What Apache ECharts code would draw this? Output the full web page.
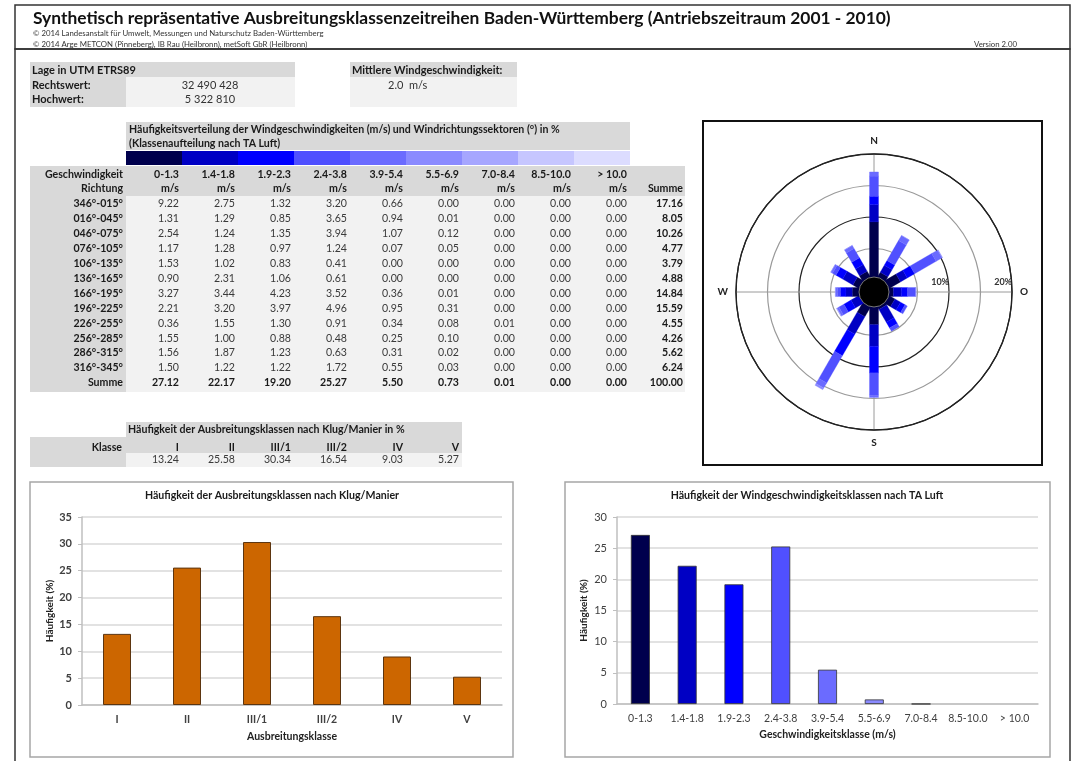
<!DOCTYPE html>
<html><head><meta charset="utf-8">
<script src="https://cdn.jsdelivr.net/npm/echarts@6/dist/echarts.min.js"></script>
<style>html,body{margin:0;padding:0;background:#fff}#c{width:1076px;height:761px}</style>
</head><body><div id="c"></div><script>
// ---------- data ----------
const titleText = 'Synthetisch repräsentative Ausbreitungsklassenzeitreihen Baden-Württemberg (Antriebszeitraum 2001 - 2010)';
const copyright1 = '© 2014 Landesanstalt für Umwelt, Messungen und Naturschutz Baden-Württemberg';
const copyright2 = '© 2014 Arge METCON (Pinneberg), IB Rau (Heilbronn), metSoft GbR (Heilbronn)';
const versionText = 'Version 2.00';
const rechtswert = '32 490 428';
const hochwert = '5 322 810';
const meanWind = '2.0';

const speedClasses = ['0-1.3','1.4-1.8','1.9-2.3','2.4-3.8','3.9-5.4','5.5-6.9','7.0-8.4','8.5-10.0','> 10.0'];
const directions = ['346°-015°','016°-045°','046°-075°','076°-105°','106°-135°','136°-165°','166°-195°','196°-225°','226°-255°','256°-285°','286°-315°','316°-345°'];
const speed0_13  = [9.22,1.31,2.54,1.17,1.53,0.90,3.27,2.21,0.36,1.55,1.56,1.50];
const speed14_18 = [2.75,1.29,1.24,1.28,1.02,2.31,3.44,3.20,1.55,1.00,1.87,1.22];
const speed19_23 = [1.32,0.85,1.35,0.97,0.83,1.06,4.23,3.97,1.30,0.88,1.23,1.22];
const speed24_38 = [3.20,3.65,3.94,1.24,0.41,0.61,3.52,4.96,0.91,0.48,0.63,1.72];
const speed39_54 = [0.66,0.94,1.07,0.07,0.00,0.00,0.36,0.95,0.34,0.25,0.31,0.55];
const speed55_69 = [0.00,0.01,0.12,0.05,0.00,0.00,0.01,0.31,0.08,0.10,0.02,0.03];
const speed70_84 = [0.00,0.00,0.00,0.00,0.00,0.00,0.00,0.00,0.01,0.00,0.00,0.00];
const speed85_100= [0.00,0.00,0.00,0.00,0.00,0.00,0.00,0.00,0.00,0.00,0.00,0.00];
const speedOver10= [0.00,0.00,0.00,0.00,0.00,0.00,0.00,0.00,0.00,0.00,0.00,0.00];
const rowSums = [17.16,8.05,10.26,4.77,3.79,4.88,14.84,15.59,4.55,4.26,5.62,6.24];
const classSums = [27.12,22.17,19.20,25.27,5.50,0.73,0.01,0.00,0.00];
const totalSum = 100.00;

const stabilityClasses = ['I','II','III/1','III/2','IV','V'];
const stabilityFreq = [13.24,25.58,30.34,16.54,9.03,5.27];

const compassLabels = ['O','N','W','S'];
const ringLabels = ['10%','20%'];

// ---------- styling ----------
const FF = 'Lato';
const speedColors = ['#00004d','#0000c4','#0000ff','#5050ff','#6b6bff','#8a8aff','#a6a6ff','#c6c6ff','#dcdcff'];
const orange = '#cc6600';
const gDark = '#d9d9d9', gLight = '#f2f2f2';
const speedSeries = [speed0_13,speed14_18,speed19_23,speed24_38,speed39_54,speed55_69,speed70_84,speed85_100,speedOver10];

const G = [];
function rect(x,y,w,h,style){ G.push({type:'rect', silent:true, shape:{x,y,width:w,height:h}, style}); }
function txt(x,y,text,font,opt){
  opt = opt || {};
  const a = opt.align || 'left';
  G.push({type:'text', silent:true, x, y, style:{text, font: font + ' ' + FF, fill: opt.fill || '#1a1a1a',
    align:a, textAlign:a, verticalAlign:'middle', textVerticalAlign:'middle'}});
}
const fmt = v => v.toFixed(2);
const colX = i => 179 + 56*i;
const rowY = i => 204 + i*14.9;
const TF = 'bold 10.6px', VF = '10.6px';

// frames
rect(15,5,1055,44,{fill:'none', stroke:'#333', lineWidth:1.5});
rect(15,49,1055,730,{fill:'none', stroke:'#333', lineWidth:1.5});
txt(33,18,titleText,'bold 17.4px',{fill:'#111'});
txt(33,33,copyright1,'7.8px',{fill:'#333'});
txt(33,44,copyright2,'7.8px',{fill:'#333'});
txt(1017,44,versionText,'7.8px',{fill:'#333',align:'right'});

// location table
rect(30,62,265,15,{fill:gDark});
rect(30,77,96,30,{fill:gDark});
rect(126,77,169,30,{fill:gLight});
txt(32,70,'Lage in UTM ETRS89','bold 11px');
txt(32,85,'Rechtswert:','bold 11px');
txt(32,99,'Hochwert:','bold 11px');
txt(210,85,rechtswert,'11px',{align:'center',fill:'#333'});
txt(210,99,hochwert,'11px',{align:'center',fill:'#333'});
rect(350,62,167,15,{fill:gDark});
rect(350,77,167,30,{fill:gLight});
txt(352,70,'Mittlere Windgeschwindigkeit:','bold 11px');
txt(388,85,meanWind + '  m/s','11px',{fill:'#333'});

// main table
rect(126,122,504,28,{fill:gDark});
txt(129,130,'Häufigkeitsverteilung der Windgeschwindigkeiten (m/s) und Windrichtungssektoren (°) in %',TF);
txt(129,144,'(Klassenaufteilung nach TA Luft)',TF);
speedColors.forEach((c,i)=>rect(126+56*i,151,56,14,{fill:c}));
rect(30,166,655,30,{fill:gDark});
rect(30,196,96,196,{fill:gDark});
rect(126,196,559,196,{fill:gLight});
txt(123,175,'Geschwindigkeit',TF,{align:'right'});
txt(123,189,'Richtung',TF,{align:'right'});
speedClasses.forEach((s,i)=>{
  txt(colX(i),175,s,TF,{align:'right'});
  txt(colX(i),189,'m/s',TF,{align:'right'});
});
txt(colX(9),189,'Summe',TF,{align:'right'});
directions.forEach((d,r)=>{
  const y = rowY(r);
  txt(123,y,d,TF,{align:'right'});
  speedSeries.forEach((arr,i)=>txt(colX(i),y,fmt(arr[r]),VF,{align:'right',fill:'#3a3a3a'}));
  txt(colX(9),y,fmt(rowSums[r]),TF,{align:'right'});
});
txt(123,rowY(12),'Summe',TF,{align:'right'});
classSums.forEach((v,i)=>txt(colX(i),rowY(12),fmt(v),TF,{align:'right'}));
txt(colX(9),rowY(12),fmt(totalSum),TF,{align:'right'});

// stability table
rect(126,422,336,31,{fill:gDark});
rect(30,437,96,30,{fill:gDark});
rect(126,453,336,14,{fill:gLight});
txt(128,430,'Häufigkeit der Ausbreitungsklassen nach Klug/Manier in %',TF);
txt(122,448,'Klasse',TF,{align:'right'});
stabilityClasses.forEach((c,i)=>{
  txt(colX(i),448,c,TF,{align:'right'});
  txt(colX(i),460,fmt(stabilityFreq[i]),VF,{align:'right',fill:'#3a3a3a'});
});

// boxes
rect(703,121,339,344,{fill:'none', stroke:'#111', lineWidth:2});
rect(30,482,483,275,{fill:'none', stroke:'#a6a6a6', lineWidth:1.5});
rect(565,482,485,275,{fill:'none', stroke:'#a6a6a6', lineWidth:1.5});
txt(272,496,'Häufigkeit der Ausbreitungsklassen nach Klug/Manier','bold 10.6px',{align:'center'});
txt(807,496,'Häufigkeit der Windgeschwindigkeitsklassen nach TA Luft','bold 10.6px',{align:'center'});

// rose data (stacked per direction)
const roseData = [];
directions.forEach((_,d)=>{
  let acc = 0;
  speedSeries.forEach((arr,k)=>{
    const v = arr[d];
    if (v > 0) roseData.push([d, acc, acc+v, k]);
    acc += v;
  });
});
function renderRose(params, api){
  const cs = params.coordSys;
  const d = api.value(0), s = api.value(1), e = api.value(2), k = api.value(3);
  const p0 = api.coord([s, d]), p1 = api.coord([e, d]);
  const ux = p1[0]-cs.cx, uy = p1[1]-cs.cy, L = Math.hypot(ux,uy) || 1;
  const hw = 4.5, nx = -uy/L*hw, ny = ux/L*hw;
  return {type:'polygon', shape:{points:[[p0[0]+nx,p0[1]+ny],[p1[0]+nx,p1[1]+ny],[p1[0]-nx,p1[1]-ny],[p0[0]-nx,p0[1]-ny]]},
    style:{fill:speedColors[k], stroke:speedColors[k], lineWidth:0.3}};
}
function renderCenter(params){
  const cs = params.coordSys;
  return {type:'circle', shape:{cx:cs.cx, cy:cs.cy, r:cs.r0+3}, style:{fill:'#000', stroke:'#777', lineWidth:1}};
}

const option = {
  animation:false,
  textStyle:{fontFamily:FF},
  graphic:{elements:G},
  polar:[{center:[874,292], radius:[12,138]},{center:[874,292], radius:[12,138]}],
  angleAxis:[
    {polarIndex:0, type:'category', data:directions, startAngle:105, clockwise:true, boundaryGap:true,
      axisLine:{show:false}, axisTick:{show:false}, axisLabel:{show:false}, splitLine:{show:false}},
    {polarIndex:1, type:'value', min:0, max:360, interval:90, startAngle:0, clockwise:false,
      axisLine:{lineStyle:{color:'#222', width:1.3}}, axisTick:{show:false},
      axisLabel:{formatter:v=>v<360?compassLabels[v/90]:'', margin:8, color:'#222', fontWeight:'bold', fontSize:10, fontFamily:FF},
      splitLine:{show:true, lineStyle:{color:'#9a9a9a', width:1}}}
  ],
  radiusAxis:[
    {polarIndex:0, type:'value', min:0, max:20, axisLine:{show:false}, axisTick:{show:false}, axisLabel:{show:false}, splitLine:{show:false}},
    {polarIndex:1, type:'value', min:0, max:20, interval:5, axisLine:{show:false}, axisTick:{show:false},
      splitLine:{show:true, lineStyle:{color:['#222','#9a9a9a','#222','#9a9a9a','#222'], width:1.2}},
      axisLabel:{formatter:v=>v===10?ringLabels[0]:(v===20?ringLabels[1]:''), inside:true, align:'right', verticalAlign:'bottom', margin:5,
        fontSize:9, fontWeight:'bold', color:'#333', fontFamily:FF}}
  ],
  grid:[{left:82, top:517, width:420, height:188},{left:617, top:517, width:421, height:187}],
  xAxis:[
    {gridIndex:0, type:'category', data:stabilityClasses,
      axisLine:{lineStyle:{color:'#bfbfbf', width:1.5}}, axisTick:{length:5, lineStyle:{color:'#bfbfbf'}},
      axisLabel:{color:'#404040', fontSize:10.5, fontWeight:'bold', margin:9, fontFamily:FF},
      name:'Ausbreitungsklasse', nameLocation:'middle', nameGap:26, nameTextStyle:{fontWeight:'bold', fontSize:10.5, color:'#222', fontFamily:FF}},
    {gridIndex:1, type:'category', data:speedClasses,
      axisLine:{lineStyle:{color:'#bfbfbf', width:1.5}}, axisTick:{length:5, lineStyle:{color:'#bfbfbf'}},
      axisLabel:{color:'#404040', fontSize:10.5, margin:9, fontFamily:FF, interval:0},
      name:'Geschwindigkeitsklasse (m/s)', nameLocation:'middle', nameGap:25, nameTextStyle:{fontWeight:'bold', fontSize:10.5, color:'#222', fontFamily:FF}}
  ],
  yAxis:[
    {gridIndex:0, type:'value', min:0, max:35, interval:5,
      axisLine:{show:true, lineStyle:{color:'#bfbfbf', width:1.5}}, axisTick:{show:true, length:4, lineStyle:{color:'#bfbfbf'}},
      splitLine:{lineStyle:{color:'#d9d9d9', width:1.5}},
      axisLabel:{color:'#404040', fontSize:11, fontWeight:'bold', margin:10, fontFamily:FF},
      name:'Häufigkeit (%)', nameLocation:'middle', nameRotate:90, nameGap:27, nameTextStyle:{fontWeight:'bold', fontSize:10, color:'#222', fontFamily:FF}},
    {gridIndex:1, type:'value', min:0, max:30, interval:5,
      axisLine:{show:true, lineStyle:{color:'#bfbfbf', width:1.5}}, axisTick:{show:true, length:4, lineStyle:{color:'#bfbfbf'}},
      splitLine:{lineStyle:{color:'#d9d9d9', width:1.5}},
      axisLabel:{color:'#404040', fontSize:11, margin:10, fontFamily:FF},
      name:'Häufigkeit (%)', nameLocation:'middle', nameRotate:90, nameGap:28, nameTextStyle:{fontWeight:'bold', fontSize:10, color:'#222', fontFamily:FF}}
  ],
  series:[
    {type:'bar', xAxisIndex:0, yAxisIndex:0, data:stabilityFreq, barWidth:28,
      itemStyle:{color:orange, borderColor:'#5c3510', borderWidth:1}},
    {type:'bar', xAxisIndex:1, yAxisIndex:1, barWidth:19,
      data:classSums.map((v,i)=>({value:v, itemStyle:{color:speedColors[i], borderWidth: v > 0 ? 0.8 : 0}})),
      itemStyle:{borderColor:'#333', borderWidth:0.8}},
    {type:'custom', coordinateSystem:'polar', polarIndex:0, data:roseData, encode:{angle:0, radius:2},
      renderItem:renderRose, z:3},
    {type:'custom', coordinateSystem:'polar', polarIndex:0, data:[[0,0,0,0]], encode:{angle:0, radius:2},
      renderItem:renderCenter, z:5}
  ]
};
const chart = echarts.init(document.getElementById('c'));
chart.setOption(option);
</script></body></html>
